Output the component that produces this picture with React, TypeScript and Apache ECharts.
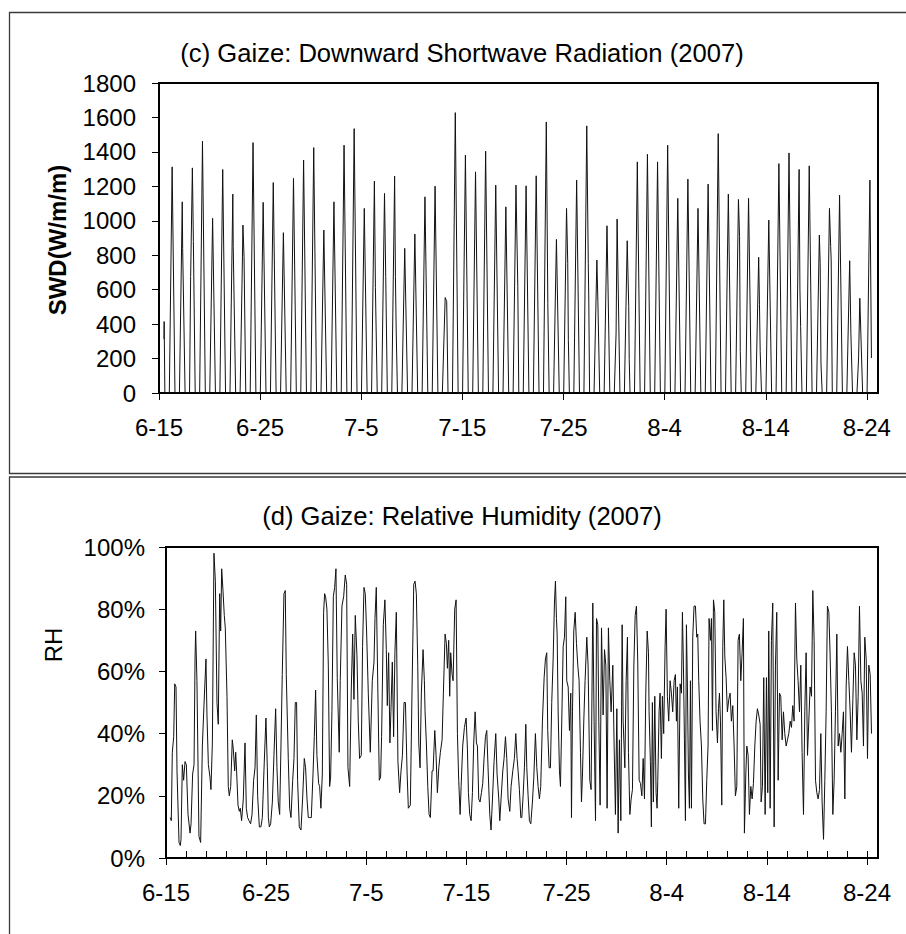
import React, { useEffect, useRef } from "react";
import * as echarts from "echarts";

// ---------- data ----------
// x positions are in days since 6-15 00:00
const X_TICK_DAYS = [0, 10, 20, 30, 40, 50, 60, 70];
const X_TICK_LABELS = ["6-15", "6-25", "7-5", "7-15", "7-25", "8-4", "8-14", "8-24"];
const X_MINOR_DAYS = [0, 2, 4, 6, 8, 10, 12, 14, 16, 18, 20, 22, 24, 26, 28, 30, 32, 34, 36, 38, 40, 42, 44, 46, 48, 50, 52, 54, 56, 58, 60, 62, 64, 66, 68, 70];
const X_MAX_DAY = 71.1;

// daily maximum of downward shortwave radiation (W/m2), day 0 = 6-15 (partial)
const SWD_PEAK = [415, 1313, 1110, 1307, 1462, 1014, 1298, 1155, 975, 1454, 1107, 1222, 931, 1246, 1352, 1425, 946, 1110, 1439, 1535, 1072, 1230, 1159, 1259, 840, 923, 1139, 1201, 554, 1628, 1381, 1284, 1404, 1207, 1081, 1207, 1203, 1261, 1574, 892, 1072, 1236, 1551, 772, 971, 1010, 884, 1342, 1386, 1342, 1439, 1130, 1242, 1072, 1213, 1506, 1155, 1124, 1130, 788, 1004, 1332, 1394, 1298, 1319, 917, 1072, 1149, 768, 550, 1236];
// time of day (fraction of day) for sunrise, maximum and sunset
const SWD_RISE = 0.02;
const SWD_NOON = 0.3;
const SWD_SET = 0.58;
// additional intraday readings (cloud effects, record start/end): [day, W/m2]
const SWD_EXTRA = [
  [0.49, 313], [2.34, 840], [3.13, 676], [3.4, 879], [7.34, 850], [8.21, 637], [8.41, 792],
  [21.4, 614], [22.42, 676], [23.38, 676], [23.46, 348], [28.45, 531], [35.48, 618], [38.45, 521],
  [40.42, 753], [40.48, 309], [42.45, 753], [42.5, 540], [43.4, 531], [45.2, 348], [46.45, 502],
  [46.5, 193], [57.41, 908], [57.48, 241], [59.38, 512], [59.45, 241], [63.38, 599], [63.45, 386],
  [65.38, 753], [65.46, 174], [66.42, 850], [66.47, 772], [68.42, 344], [69.18, 203], [70.45, 203],
];

// relative humidity readings: [day, %]
const RH_READINGS = [
  [0.43, 13], [0.53, 12], [0.63, 34], [0.77, 39], [0.87, 56], [1.0, 55], [1.1, 28], [1.3, 5], [1.43, 4], [1.5, 6],
  [1.63, 30], [1.76, 25], [1.9, 31], [2.03, 30], [2.2, 14], [2.4, 8], [2.5, 11], [2.66, 27], [2.8, 30], [2.9, 64],
  [2.96, 73], [3.09, 57], [3.29, 7], [3.46, 5], [3.63, 36], [3.79, 49], [3.99, 64], [4.09, 46], [4.23, 30], [4.39, 26],
  [4.49, 22], [4.63, 37], [4.79, 98], [4.93, 89], [5.09, 50], [5.22, 43], [5.36, 85], [5.46, 73], [5.56, 93], [5.69, 86],
  [5.82, 78], [5.92, 74], [6.09, 52], [6.22, 23], [6.32, 20], [6.46, 23], [6.62, 38], [6.72, 35], [6.86, 28], [6.96, 34],
  [7.05, 28], [7.19, 17], [7.32, 15], [7.42, 16], [7.55, 12], [7.72, 19], [7.89, 37], [8.02, 16], [8.15, 13], [8.29, 12],
  [8.45, 11], [8.59, 14], [8.75, 25], [8.89, 29], [9.02, 46], [9.15, 20], [9.32, 10], [9.48, 10], [9.62, 13], [9.78, 28],
  [9.98, 45], [10.12, 29], [10.22, 13], [10.32, 10], [10.45, 11], [10.62, 18], [10.78, 33], [10.95, 48], [11.08, 29], [11.21, 18],
  [11.35, 14], [11.48, 36], [11.61, 59], [11.78, 85], [11.91, 86], [12.01, 59], [12.21, 32], [12.35, 16], [12.48, 13], [12.65, 25],
  [12.78, 32], [12.91, 50], [13.04, 50], [13.14, 25], [13.31, 10], [13.48, 9], [13.64, 19], [13.81, 32], [13.94, 29], [14.08, 19],
  [14.21, 13], [14.34, 13], [14.51, 13], [14.68, 27], [14.81, 39], [14.94, 54], [15.07, 33], [15.24, 24], [15.34, 23], [15.47, 16],
  [15.61, 27], [15.74, 79], [15.84, 85], [15.94, 84], [16.07, 80], [16.21, 62], [16.34, 23], [16.44, 26], [16.57, 47], [16.71, 84],
  [16.84, 87], [16.97, 93], [17.1, 58], [17.3, 34], [17.4, 57], [17.57, 81], [17.74, 84], [17.9, 91], [18.04, 88], [18.17, 29],
  [18.34, 23], [18.5, 54], [18.64, 72], [18.77, 51], [18.9, 78], [19.07, 65], [19.2, 44], [19.33, 32], [19.5, 33], [19.63, 68],
  [19.77, 87], [19.9, 85], [20.03, 73], [20.2, 53], [20.4, 34], [20.6, 57], [20.77, 63], [20.87, 77], [21.0, 87], [21.16, 53],
  [21.3, 25], [21.43, 26], [21.53, 39], [21.7, 75], [21.86, 83], [22.0, 67], [22.1, 49], [22.23, 66], [22.36, 37], [22.46, 47],
  [22.6, 63], [22.73, 39], [22.86, 66], [23.0, 79], [23.16, 31], [23.33, 21], [23.47, 28], [23.61, 33], [23.77, 50], [23.91, 50],
  [24.07, 28], [24.2, 16], [24.4, 17], [24.57, 54], [24.74, 88], [24.87, 89], [25.0, 85], [25.14, 62], [25.24, 37], [25.37, 29],
  [25.5, 53], [25.67, 67], [25.8, 57], [25.87, 47], [26.0, 37], [26.14, 23], [26.27, 14], [26.4, 13], [26.57, 28], [26.67, 28],
  [26.84, 41], [26.97, 33], [27.1, 21], [27.24, 29], [27.4, 34], [27.57, 38], [27.7, 53], [27.87, 72], [28.0, 69], [28.1, 61],
  [28.23, 70], [28.33, 52], [28.43, 66], [28.57, 59], [28.67, 57], [28.83, 80], [28.97, 83], [29.1, 40], [29.23, 25], [29.37, 14],
  [29.47, 23], [29.63, 36], [29.8, 42], [29.97, 45], [30.1, 35], [30.2, 21], [30.33, 14], [30.47, 12], [30.6, 21], [30.73, 37],
  [30.87, 47], [31.0, 37], [31.1, 36], [31.23, 19], [31.36, 18], [31.5, 21], [31.63, 24], [31.76, 32], [31.9, 39], [32.03, 41],
  [32.16, 29], [32.33, 14], [32.46, 9], [32.6, 19], [32.76, 31], [32.93, 40], [33.06, 27], [33.23, 19], [33.33, 12], [33.46, 19],
  [33.63, 28], [33.76, 32], [33.9, 39], [34.03, 32], [34.16, 19], [34.33, 15], [34.46, 23], [34.63, 28], [34.79, 32], [34.93, 40],
  [35.06, 32], [35.16, 28], [35.29, 22], [35.43, 13], [35.53, 13], [35.66, 20], [35.79, 29], [35.93, 43], [36.03, 29], [36.16, 20],
  [36.29, 12], [36.43, 11], [36.59, 18], [36.73, 26], [36.89, 40], [37.03, 29], [37.16, 23], [37.29, 19], [37.42, 23], [37.59, 44],
  [37.76, 58], [37.89, 64], [38.02, 66], [38.12, 41], [38.26, 29], [38.39, 29], [38.52, 50], [38.66, 64], [38.79, 82], [38.89, 89],
  [38.99, 77], [39.06, 72], [39.16, 47], [39.29, 28], [39.39, 23], [39.52, 44], [39.66, 68], [39.79, 71], [39.92, 84], [40.02, 57],
  [40.16, 55], [40.29, 41], [40.42, 53], [40.49, 13], [40.59, 47], [40.72, 73], [40.86, 79], [40.99, 69], [41.12, 62], [41.25, 57],
  [41.39, 34], [41.49, 18], [41.59, 27], [41.72, 44], [41.85, 57], [42.02, 71], [42.15, 62], [42.32, 25], [42.45, 22], [42.62, 82],
  [42.75, 44], [42.89, 12], [42.99, 77], [43.12, 75], [43.22, 44], [43.35, 17], [43.49, 74], [43.65, 46], [43.79, 67], [43.92, 62],
  [44.05, 16], [44.18, 74], [44.32, 57], [44.45, 47], [44.62, 62], [44.75, 36], [44.88, 14], [45.02, 48], [45.15, 8], [45.28, 38],
  [45.42, 12], [45.55, 75], [45.65, 44], [45.82, 29], [45.95, 57], [46.08, 71], [46.18, 34], [46.32, 14], [46.45, 19], [46.58, 22],
  [46.72, 62], [46.85, 78], [46.98, 81], [47.11, 63], [47.25, 25], [47.38, 24], [47.52, 20], [47.65, 32], [47.78, 19], [47.91, 53],
  [48.05, 73], [48.18, 66], [48.24, 47], [48.37, 31], [48.47, 10], [48.57, 50], [48.67, 18], [48.81, 52], [48.94, 21], [49.04, 16],
  [49.11, 25], [49.24, 47], [49.34, 53], [49.47, 32], [49.57, 52], [49.7, 40], [49.84, 68], [49.94, 80], [50.07, 52], [50.2, 44],
  [50.34, 57], [50.47, 53], [50.6, 47], [50.74, 57], [50.87, 59], [50.97, 44], [51.07, 55], [51.2, 16], [51.34, 56], [51.47, 53],
  [51.57, 79], [51.67, 62], [51.77, 38], [51.87, 12], [51.97, 75], [52.07, 55], [52.17, 27], [52.27, 16], [52.37, 57], [52.47, 16],
  [52.6, 71], [52.73, 81], [52.87, 81], [53.0, 71], [53.1, 72], [53.2, 57], [53.33, 44], [53.47, 36], [53.6, 19], [53.73, 11],
  [53.87, 11], [54.0, 25], [54.13, 36], [54.23, 77], [54.37, 70], [54.47, 77], [54.57, 41], [54.67, 83], [54.8, 79], [54.93, 47],
  [55.07, 37], [55.17, 48], [55.27, 53], [55.37, 44], [55.5, 17], [55.6, 68], [55.7, 83], [55.8, 65], [55.93, 58], [56.06, 47],
  [56.2, 51], [56.33, 53], [56.46, 44], [56.6, 49], [56.73, 36], [56.86, 20], [57.0, 23], [57.13, 70], [57.26, 72], [57.4, 57],
  [57.53, 66], [57.66, 77], [57.76, 8], [57.9, 27], [58.0, 36], [58.13, 33], [58.26, 14], [58.4, 23], [58.53, 19], [58.66, 24],
  [58.8, 36], [58.93, 44], [59.06, 48], [59.19, 46], [59.33, 43], [59.43, 18], [59.56, 23], [59.69, 58], [59.83, 14], [59.96, 58],
  [60.09, 21], [60.19, 73], [60.33, 16], [60.46, 70], [60.59, 82], [60.73, 10], [60.86, 62], [60.99, 79], [61.13, 25], [61.26, 53],
  [61.39, 52], [61.53, 38], [61.66, 47], [61.79, 40], [61.93, 36], [62.06, 38], [62.19, 40], [62.33, 44], [62.46, 42], [62.59, 49],
  [62.72, 44], [62.86, 82], [62.99, 64], [63.12, 57], [63.26, 47], [63.39, 62], [63.52, 34], [63.66, 14], [63.79, 47], [63.92, 66],
  [64.06, 33], [64.19, 44], [64.32, 55], [64.46, 52], [64.59, 86], [64.72, 70], [64.86, 25], [64.99, 21], [65.12, 19], [65.26, 22],
  [65.39, 40], [65.52, 18], [65.66, 6], [65.79, 25], [65.92, 47], [66.05, 81], [66.19, 79], [66.32, 65], [66.45, 47], [66.59, 14],
  [66.72, 25], [66.85, 47], [66.99, 72], [67.12, 36], [67.25, 40], [67.39, 34], [67.52, 40], [67.65, 47], [67.79, 19], [67.92, 55],
  [68.05, 68], [68.19, 57], [68.32, 47], [68.45, 34], [68.59, 51], [68.72, 66], [68.85, 62], [68.99, 38], [69.12, 52], [69.25, 81],
  [69.39, 57], [69.52, 53], [69.65, 36], [69.78, 71], [69.92, 64], [70.05, 32], [70.18, 62], [70.32, 59], [70.45, 40],
];

const TITLE_SWD = "(c) Gaize: Downward Shortwave Radiation (2007)";
const TITLE_RH = "(d) Gaize: Relative Humidity (2007)";
const NAME_SWD = "SWD(W/m/m)";
const NAME_RH = "RH";

// ---------- build the SWD series from the readings ----------
function buildSwd(): number[][] {
  const pts: number[][] = [];
  const last = SWD_PEAK.length - 1;
  SWD_PEAK.forEach((peak, n) => {
    if (n === 0) {
      pts.push([0.51, peak]);
      pts.push([SWD_SET, 0]);
      return;
    }
    pts.push([n + SWD_RISE, 0]);
    pts.push([n + SWD_NOON, peak]);
    if (n !== last) pts.push([n + SWD_SET, 0]);
  });
  SWD_EXTRA.forEach((p) => pts.push([p[0], p[1]]));
  pts.sort((a, b) => a[0] - b[0]);
  return pts;
}

const FONT = 'Arial, "Liberation Sans", Helvetica, sans-serif';
const BLACK = "#000";

function dayLabel(v: number): string {
  const i = X_TICK_DAYS.indexOf(Math.round(v));
  return i >= 0 ? X_TICK_LABELS[i] : "";
}

export default function App() {
  const ref = useRef<HTMLDivElement>(null);

  useEffect(() => {
    if (!ref.current) return;
    const chart = echarts.init(ref.current, undefined, { renderer: "svg" });

    const axisLine = { show: true, lineStyle: { color: BLACK, width: 2 } };
    const labelStyle = { color: BLACK, fontSize: 24, fontFamily: FONT };

    const option: any = {
      animation: false,
      backgroundColor: "#fff",
      grid: [
        { left: 159, top: 83, width: 719, height: 310, show: true, borderColor: BLACK, borderWidth: 2, backgroundColor: "transparent" },
        { left: 166, top: 547, width: 712, height: 311, show: true, borderColor: BLACK, borderWidth: 2, backgroundColor: "transparent" },
      ],
      xAxis: [
        {
          type: "value", gridIndex: 0, min: 0, max: X_MAX_DAY, position: "bottom",
          axisLine,
          axisTick: { show: true, inside: false, length: 7, customValues: X_TICK_DAYS, lineStyle: { color: BLACK, width: 1 } },
          axisLabel: { ...labelStyle, margin: 22, customValues: X_TICK_DAYS, formatter: dayLabel },
          splitLine: { show: false },
        },
        {
          type: "value", gridIndex: 1, min: 0, max: X_MAX_DAY, position: "bottom",
          axisLine,
          axisTick: { show: true, inside: false, length: 7, customValues: X_TICK_DAYS, lineStyle: { color: BLACK, width: 1 } },
          axisLabel: { ...labelStyle, margin: 22, customValues: X_TICK_DAYS, formatter: dayLabel },
          splitLine: { show: false },
        },
        {
          type: "value", gridIndex: 1, min: 0, max: X_MAX_DAY, position: "bottom", offset: 0,
          axisLine,
          axisTick: { show: true, inside: true, length: 7, customValues: X_MINOR_DAYS, lineStyle: { color: BLACK, width: 1 } },
          axisLabel: { show: false },
          splitLine: { show: false },
        },
      ],
      yAxis: [
        {
          type: "value", gridIndex: 0, min: 0, max: 1800, interval: 200,
          axisLine,
          axisTick: { show: true, inside: false, length: 7, lineStyle: { color: BLACK, width: 1 } },
          axisLabel: { ...labelStyle, margin: 23, formatter: (v: number) => String(v) },
          splitLine: { show: false },
        },
        {
          type: "value", gridIndex: 1, min: 0, max: 100, interval: 20,
          axisLine,
          axisTick: { show: true, inside: false, length: 7, lineStyle: { color: BLACK, width: 1 } },
          axisLabel: { ...labelStyle, margin: 21, formatter: (v: number) => `${v}%` },
          splitLine: { show: false },
        },
      ],
      series: [
        {
          name: "SWD", type: "line", xAxisIndex: 0, yAxisIndex: 0,
          data: buildSwd(), showSymbol: false, symbol: "none",
          lineStyle: { color: "#111", width: 1 }, z: 3,
        },
        {
          name: "RH", type: "line", xAxisIndex: 1, yAxisIndex: 1,
          data: RH_READINGS, showSymbol: false, symbol: "none",
          lineStyle: { color: "#111", width: 1 }, z: 3,
        },
      ],
      graphic: [
        { type: "rect", shape: { x: 9.5, y: 12.5, width: 1000, height: 461 }, style: { fill: "none", stroke: "#3a3a3a", lineWidth: 1.3 }, silent: true },
        { type: "rect", shape: { x: 9.5, y: 477, width: 1000, height: 600 }, style: { fill: "none", stroke: "#3a3a3a", lineWidth: 1.3 }, silent: true },
        {
          type: "text", x: 462, y: 53,
          style: { text: TITLE_SWD, fill: BLACK, font: `25.6px ${FONT}`, align: "center", verticalAlign: "middle", textAlign: "center", textVerticalAlign: "middle" },
        },
        {
          type: "text", x: 462, y: 516,
          style: { text: TITLE_RH, fill: BLACK, font: `25.6px ${FONT}`, align: "center", verticalAlign: "middle", textAlign: "center", textVerticalAlign: "middle" },
        },
        {
          type: "text", x: 57, y: 240, rotation: Math.PI / 2,
          style: { text: NAME_SWD, fill: BLACK, font: `bold 24px ${FONT}`, align: "center", verticalAlign: "middle", textAlign: "center", textVerticalAlign: "middle" },
        },
        {
          type: "text", x: 53, y: 645, rotation: Math.PI / 2,
          style: { text: NAME_RH, fill: BLACK, font: `24px ${FONT}`, align: "center", verticalAlign: "middle", textAlign: "center", textVerticalAlign: "middle" },
        },
      ],
    };

    chart.setOption(option);
    return () => chart.dispose();
  }, []);

  return (
    <div
      ref={ref}
      style={{ position: "absolute", left: 0, top: 0, width: 906, height: 934, background: "#fff" }}
    />
  );
}
